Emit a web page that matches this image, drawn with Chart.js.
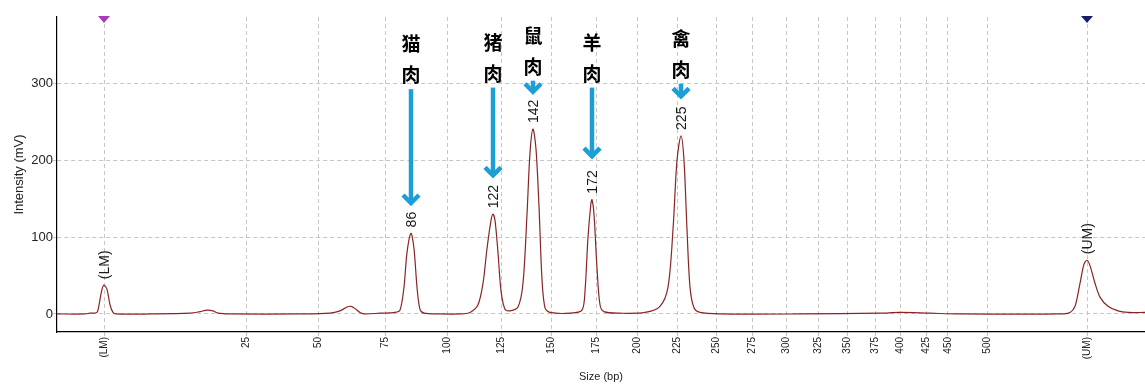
<!DOCTYPE html>
<html>
<head>
<meta charset="utf-8">
<script src="https://cdn.jsdelivr.net/npm/chart.js@4/dist/chart.umd.min.js"></script>
<style>
  body { margin: 0; background: #fff; }
  #wrap { width: 1145px; height: 388px; }
</style>
</head>
<body>
<div id="wrap"><canvas id="traceChart"></canvas></div>
<script>
// migration time (arbitrary units) and signal
const migration = [
  0.0, 2.8, 3.3, 4.0, 4.2, 4.5, 4.7, 5.0, 5.3, 5.6, 5.9, 9.3, 13.3, 14.3, 15.0, 15.6, 16.1, 17.3,
  24.3, 27.3, 28.3, 29.0, 29.4, 29.8, 30.3, 30.8, 32.3, 33.8, 34.3, 34.7, 35.0, 35.4, 35.7, 36.0,
  36.3, 36.7, 38.3, 40.3, 41.3, 42.1, 42.6, 43.0, 43.4, 43.6, 43.8, 44.1, 44.4, 44.8, 45.3, 46.1,
  46.6, 47.0, 47.3, 47.6, 47.9, 48.2, 48.5, 48.8, 49.3, 51.3, 52.5, 52.8, 53.1, 53.4, 53.5, 53.7,
  54.0, 54.3, 54.7, 56.3, 58.8, 60.3, 61.1, 61.6, 62.0, 62.4, 62.7, 63.0, 63.3, 63.7, 64.3, 66.3,
  74.3, 82.3, 84.3, 87.3, 90.3, 100.3, 101.3, 101.8, 102.3, 102.7, 103.0, 103.3, 103.8, 104.3,
  105.1, 106.1, 107.1, 108.8
];
const intensity = [
  0, 0, 1, 2, 12, 32, 37.5, 32, 12, 2, 0, 0, 1, 3, 5, 4, 1, 0,
  0, 1, 4, 9, 10, 7, 2, 0, 1, 2, 5, 35, 80, 105, 85, 35,
  6, 1, 0, 0, 2, 12, 40, 85, 122, 130, 122, 80, 30, 6, 4, 9,
  40, 130, 210, 241, 215, 140, 45, 8, 2, 1, 5, 30, 100, 145, 149, 130,
  60, 12, 3, 1, 2, 10, 35, 110, 200, 232, 200, 110, 35, 8, 2, 0,
  0, 1, 2, 1, 0, 0, 2, 10, 40, 65, 70, 63, 40, 22,
  10, 4, 2, 2
];

// size ladder: where each bp mark falls on the migration axis
const tickPos = [4.7, 18.9, 26.1, 32.8, 39.0, 44.4, 49.4, 53.9, 58.0, 62.0, 65.9, 69.5,
  72.9, 76.1, 79.0, 81.8, 84.3, 86.9, 89.1, 93.0, 103.0];
const tickLabels = ['(LM)', '25', '50', '75', '100', '125', '150', '175', '200', '225', '250', '275',
  '300', '325', '350', '375', '400', '425', '450', '500', '(UM)'];
const yTicks = [0, 100, 200, 300];

// called peaks
const peakPos = [4.7, 35.4, 43.6, 47.6, 53.5, 62.4, 103.0];
const peakHeight = [37.5, 105, 130, 241, 149, 232, 70];
const peakText = ['(LM)', '86', '122', '142', '172', '225', '(UM)'];

// species callouts (peak index, arrow start and tip in mV)
const meatNames = ['猫肉', '猪肉', '鼠肉', '羊肉', '禽肉'];
const meatPeak = [1, 2, 3, 4, 5];
const arrowTop = [293, 295, 304, 295, 300];
const arrowTip = [142, 178, 287, 203, 281];

// marker triangles above the plot
const markerPos = [4.7, 103.0];
const markerColor = ['#a43cb4', '#1c1c6e'];

const gridColor = '#c6c6c6';

const annotate = {
  id: 'annotate',
  afterDatasetsDraw(chart) {
    const { ctx, scales: { x, y } } = chart;
    ctx.save();

    // peak size labels, rotated
    ctx.fillStyle = '#1a1a1a';
    ctx.font = '14px "Liberation Sans", Arial, sans-serif';
    ctx.textAlign = 'left';
    ctx.textBaseline = 'middle';
    peakText.forEach((t, i) => {
      ctx.save();
      ctx.translate(x.getPixelForValue(peakPos[i]) + 1, y.getPixelForValue(peakHeight[i]) - 6);
      ctx.rotate(-Math.PI / 2);
      ctx.fillText(t, 0, 0);
      ctx.restore();
    });

    // arrows and species names
    meatNames.forEach((name, i) => {
      const px = x.getPixelForValue(peakPos[meatPeak[i]]);
      const top = y.getPixelForValue(arrowTop[i]);
      const tip = y.getPixelForValue(arrowTip[i]);
      ctx.strokeStyle = '#1d9ed6';
      ctx.lineWidth = 4.5;
      ctx.lineCap = 'butt';
      ctx.beginPath();
      ctx.moveTo(px, top);
      ctx.lineTo(px, tip - 2);
      ctx.stroke();
      ctx.lineJoin = 'miter';
      ctx.beginPath();
      ctx.moveTo(px - 8, tip - 10);
      ctx.lineTo(px, tip - 2);
      ctx.lineTo(px + 8, tip - 10);
      ctx.stroke();

      ctx.fillStyle = '#000';
      ctx.font = 'bold 19px "Noto Sans CJK SC", sans-serif';
      ctx.textAlign = 'center';
      ctx.textBaseline = 'middle';
      [...name].forEach((ch, k) => ctx.fillText(ch, px, top - 45 + k * 31));
    });

    // ladder markers
    markerPos.forEach((m, i) => {
      const px = x.getPixelForValue(m);
      const top = chart.chartArea.top - 1;
      ctx.fillStyle = markerColor[i];
      ctx.beginPath();
      ctx.moveTo(px - 6, top);
      ctx.lineTo(px + 6, top);
      ctx.lineTo(px, top + 7);
      ctx.closePath();
      ctx.fill();
    });
    ctx.restore();
  }
};

new Chart(document.getElementById('traceChart'), {
  type: 'line',
  data: {
    datasets: [{
      data: migration.map((m, i) => ({ x: m, y: intensity[i] })),
      borderColor: '#8a2424',
      borderWidth: 1.2,
      pointRadius: 0,
      tension: 0.3,
      fill: false
    }]
  },
  options: {
    responsive: true,
    maintainAspectRatio: false,
    animation: false,
    layout: { padding: { top: 17, right: 0, left: 0, bottom: 0 } },
    plugins: {
      legend: { display: false },
      tooltip: { enabled: false }
    },
    scales: {
      x: {
        type: 'linear',
        min: 0,
        max: 108.8,
        afterBuildTicks: (scale) => { scale.ticks = tickPos.map(v => ({ value: v })); },
        afterFit: (scale) => { scale.height = 56; },
        ticks: {
          autoSkip: false,
          minRotation: 90,
          maxRotation: 90,
          padding: 1,
          color: '#222',
          font: { family: '"Liberation Sans", Arial, sans-serif', size: 10 },
          callback: (value, index) => tickLabels[index]
        },
        grid: { color: gridColor, tickLength: 4, tickColor: gridColor },
        border: { display: true, color: '#000', width: 1.2, dash: [4, 3] },
        title: {
          display: true,
          text: 'Size (bp)',
          color: '#222',
          font: { family: '"Liberation Sans", Arial, sans-serif', size: 11 },
          padding: { top: 0, bottom: 4 }
        }
      },
      y: {
        min: -23.5,
        max: 387,
        afterBuildTicks: (scale) => { scale.ticks = yTicks.map(v => ({ value: v })); },
        afterFit: (scale) => { scale.width = 57; },
        ticks: {
          padding: 0,
          color: '#222',
          font: { family: '"Liberation Sans", Arial, sans-serif', size: 13 }
        },
        grid: { color: gridColor, tickLength: 4, tickColor: gridColor },
        border: { display: true, color: '#000', width: 1.2, dash: [4, 3] },
        title: {
          display: true,
          text: 'Intensity (mV)',
          color: '#222',
          font: { family: '"Liberation Sans", Arial, sans-serif', size: 13 },
          padding: { top: 12, bottom: 0 }
        }
      }
    }
  },
  plugins: [annotate]
});
</script>
</body>
</html>
